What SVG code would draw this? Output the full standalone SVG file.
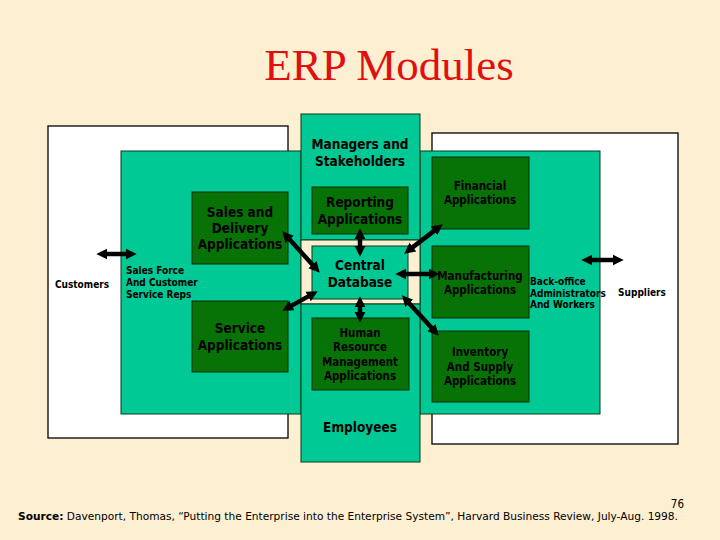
<svg xmlns="http://www.w3.org/2000/svg" width="720" height="540" viewBox="0 0 720 540">
<defs>
<style>
.bg{fill:#fcefd2}
.white{fill:#ffffff;stroke:#000;stroke-width:1.3}
.teal{fill:#00c995;stroke:#0a3a1a;stroke-width:1}
.gap{fill:#fcefd2;stroke:#0a3a1a;stroke-width:1}
.dark{fill:#077307;stroke:#0a2a0a;stroke-width:1}
.t{font-family:"DejaVu Sans Condensed","DejaVu Sans",sans-serif;font-weight:bold;fill:#000;text-anchor:middle}
.big{font-size:13.5px}
.mid{font-size:11.5px}
.sm{font-size:10px}
.l{text-anchor:start}
.arr{stroke:#000;stroke-width:4.5;fill:none;marker-start:url(#ah);marker-end:url(#ah)}
</style>
<marker id="ah" viewBox="0 0 10 10" refX="3" refY="5" markerWidth="11" markerHeight="13" markerUnits="userSpaceOnUse" orient="auto-start-reverse">
<path d="M0,0 L10,5 L0,10 z" fill="#000"/>
</marker>
</defs>
<rect class="bg" x="0" y="0" width="720" height="540"/>
<text x="389" y="80" font-family="'Liberation Serif',serif" font-size="45" fill="#e01010" text-anchor="middle">ERP Modules</text>

<g id="customers-area">
<rect class="white" x="48" y="126" width="240" height="312"/>
</g>
<g id="suppliers-area">
<rect class="white" x="432" y="133" width="246" height="311"/>
</g>
<g id="sales-force">
<rect class="teal" x="121" y="151" width="180" height="263"/>
</g>
<g id="back-office">
<rect class="teal" x="420" y="151" width="180" height="263"/>
</g>
<g id="managers">
<rect class="teal" x="301" y="114" width="119" height="126"/>
<text class="t big" x="360" y="149">Managers and</text>
<text class="t big" x="360" y="166">Stakeholders</text>
</g>
<g id="center-gap">
<rect class="gap" x="301" y="240" width="119" height="64"/>
</g>
<g id="employees">
<rect class="teal" x="301" y="304" width="119" height="158"/>
<text class="t big" x="360" y="432">Employees</text>
</g>
<g id="central-database">
<rect class="teal" x="312" y="246" width="96" height="53"/>
<text class="t big" x="360" y="270">Central</text>
<text class="t big" x="360" y="287">Database</text>
</g>
<g id="reporting">
<rect class="dark" x="312" y="187" width="96" height="47"/>
<text class="t big" x="360" y="207">Reporting</text>
<text class="t big" x="360" y="224">Applications</text>
</g>
<g id="sales-delivery">
<rect class="dark" x="192" y="192" width="96" height="72"/>
<text class="t big" x="240" y="217">Sales and</text>
<text class="t big" x="240" y="233">Delivery</text>
<text class="t big" x="240" y="249">Applications</text>
</g>
<g id="service">
<rect class="dark" x="192" y="301" width="96" height="71"/>
<text class="t big" x="240" y="333">Service</text>
<text class="t big" x="240" y="350">Applications</text>
</g>
<g id="hrm">
<rect class="dark" x="312" y="318" width="97" height="72"/>
<text class="t mid" x="360" y="337">Human</text>
<text class="t mid" x="360" y="351">Resource</text>
<text class="t mid" x="360" y="366">Management</text>
<text class="t mid" x="360" y="380">Applications</text>
</g>
<g id="financial">
<rect class="dark" x="432" y="157" width="97" height="72"/>
<text class="t mid" x="480" y="190">Financial</text>
<text class="t mid" x="480" y="204">Applications</text>
</g>
<g id="manufacturing">
<rect class="dark" x="432" y="246" width="97" height="72"/>
<text class="t mid" x="480" y="280">Manufacturing</text>
<text class="t mid" x="480" y="294">Applications</text>
</g>
<g id="inventory">
<rect class="dark" x="432" y="331" width="97" height="71"/>
<text class="t mid" x="480" y="356">Inventory</text>
<text class="t mid" x="480" y="371">And Supply</text>
<text class="t mid" x="480" y="385">Applications</text>
</g>

<g id="labels">
<text class="t sm" x="82" y="288">Customers</text>
<text class="t sm l" x="126" y="274">Sales Force</text>
<text class="t sm l" x="126" y="286">And Customer</text>
<text class="t sm l" x="126" y="298">Service Reps</text>
<text class="t sm l" x="530" y="285">Back-office</text>
<text class="t sm l" x="530" y="297">Administrators</text>
<text class="t sm l" x="530" y="308">And Workers</text>
<text class="t sm" x="642" y="296">Suppliers</text>
</g>

<g id="connectors">
<line class="arr" x1="104" y1="254" x2="129" y2="254"/>
<line class="arr" x1="589" y1="260" x2="616" y2="260"/>
<line class="arr" x1="287.4" y1="236.9" x2="314.6" y2="267.1"/>
<line class="arr" x1="289" y1="307.1" x2="311" y2="294.9"/>
<line class="arr" x1="360" y1="236" x2="360" y2="249"/>
<line class="arr" x1="360" y1="304" x2="360" y2="315"/>
<line class="arr" x1="410.3" y1="249.1" x2="436.7" y2="228.9"/>
<line class="arr" x1="403" y1="274" x2="432" y2="274"/>
<line class="arr" x1="407.1" y1="300.9" x2="433.6" y2="330.1"/>
</g>

<g id="footer">
<text x="684" y="508" font-family="'DejaVu Sans Condensed','DejaVu Sans',sans-serif" font-size="11.5" text-anchor="end">76</text>
<text x="18" y="520" font-family="'DejaVu Sans Condensed','DejaVu Sans',sans-serif" font-size="11" textLength="660" lengthAdjust="spacingAndGlyphs"><tspan font-weight="bold">Source:</tspan> Davenport, Thomas, “Putting the Enterprise into the Enterprise System”, Harvard Business Review, July-Aug. 1998.</text>
</g>
</svg>
